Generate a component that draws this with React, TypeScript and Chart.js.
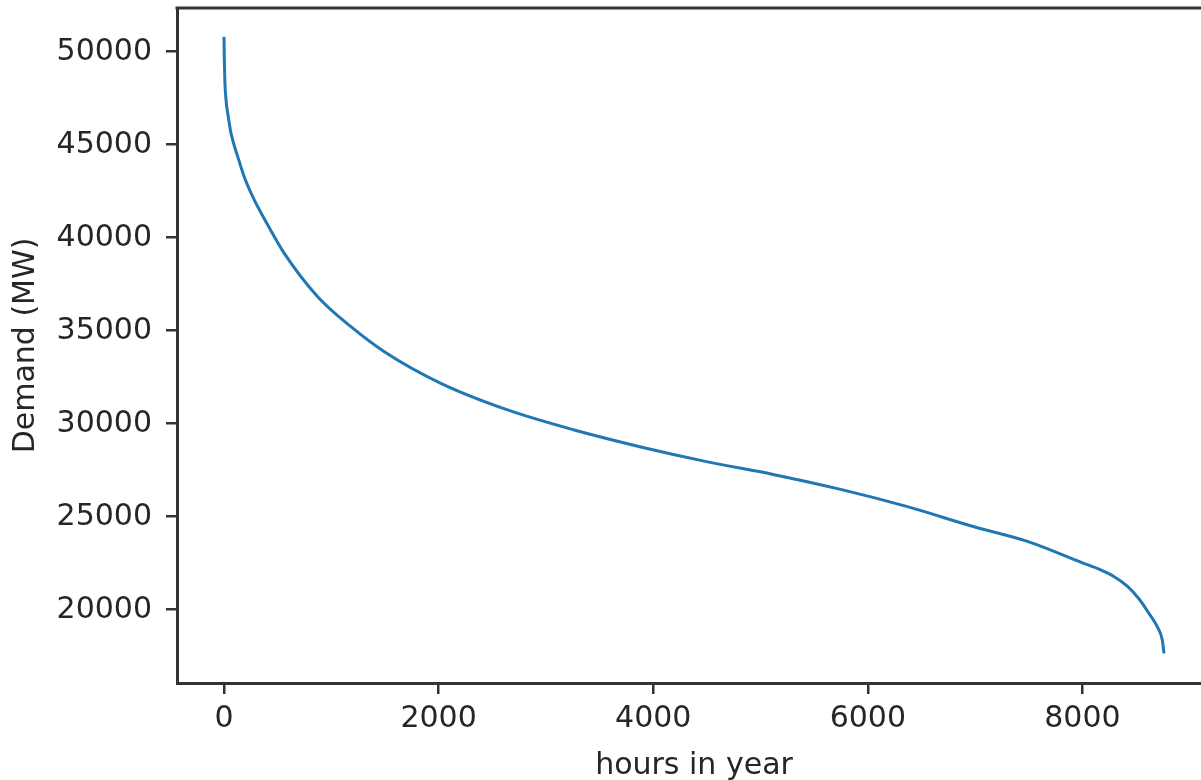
import React, { useEffect, useRef } from "react";
import { Chart, registerables } from "chart.js";

Chart.register(...registerables);

const hours = [0, 3, 8, 19, 40, 65, 128, 190, 282, 391, 562, 873, 1183, 1494, 2021, 2643, 3264, 3884, 4506, 5127, 5747, 6369, 6990, 7500, 8000, 8170, 8300, 8420, 8530, 8620, 8697, 8744, 8760];
const demand = [50800, 49600, 48400, 47400, 46500, 45620, 44360, 43250, 42030, 40860, 39160, 36830, 35215, 33870, 32170, 30740, 29660, 28750, 27950, 27260, 26470, 25540, 24460, 23650, 22520, 22140, 21760, 21250, 20560, 19800, 19090, 18370, 17650];
const xTicks = [0, 2000, 4000, 6000, 8000];
const yTicks = [20000, 25000, 30000, 35000, 40000, 45000, 50000];
const xTitle = "hours in year";
const yTitle = "Demand (MW)";

const FONT = "'DejaVu Sans', sans-serif";
const INK = "#262626";
const SPINE = "#333333";

export default function App() {
  const ref = useRef<HTMLCanvasElement | null>(null);

  useEffect(() => {
    if (!ref.current) return;
    const topSpine = {
      id: "topSpine",
      afterDraw(chart: any) {
        const { ctx, chartArea } = chart;
        ctx.save();
        ctx.strokeStyle = SPINE;
        ctx.lineWidth = 3;
        ctx.beginPath();
        ctx.moveTo(chartArea.left - 1.5, chartArea.top);
        ctx.lineTo(chartArea.right + 1.5, chartArea.top);
        ctx.stroke();
        ctx.restore();
      },
    };
    const chart = new Chart(ref.current, {
      type: "line",
      data: {
        datasets: [
          {
            data: hours.map((h, i) => ({ x: h, y: demand[i] })),
            borderColor: "#1f77b4",
            borderWidth: 3,
            pointRadius: 0,
            fill: false,
            cubicInterpolationMode: "monotone",
          },
        ],
      },
      options: {
        animation: false,
        responsive: false,
        maintainAspectRatio: false,
        layout: { padding: { top: 8, right: 19, left: 0, bottom: 0 } },
        plugins: { legend: { display: false }, tooltip: { enabled: false } },
        scales: {
          x: {
            type: "linear",
            min: -438,
            max: 9198,
            afterBuildTicks: (s: any) => {
              s.ticks = xTicks.map((v) => ({ value: v }));
            },
            afterFit: (s: any) => {
              s.height = 97;
              s.paddingLeft = 0;
              s.paddingRight = 0;
            },
            grid: { drawOnChartArea: false, drawTicks: true, tickLength: 11, color: SPINE, lineWidth: 2.5 },
            border: { display: true, color: SPINE, width: 3 },
            ticks: { color: INK, font: { family: FONT, size: 30 }, padding: 7, maxRotation: 0, autoSkip: false, callback: (v: any) => String(v) },
            title: { display: true, text: xTitle, color: INK, font: { family: FONT, size: 30 }, padding: { top: 0, bottom: -4 } },
          },
          y: {
            type: "linear",
            min: 16060,
            max: 52350,
            afterBuildTicks: (s: any) => {
              s.ticks = yTicks.map((v) => ({ value: v }));
            },
            afterFit: (s: any) => {
              s.width = 177;
              s.paddingTop = 0;
              s.paddingBottom = 0;
            },
            grid: { drawOnChartArea: false, drawTicks: true, tickLength: 11, color: SPINE, lineWidth: 2.5 },
            border: { display: true, color: SPINE, width: 3 },
            ticks: { color: INK, font: { family: FONT, size: 30 }, padding: 14, callback: (v: any) => String(v) },
            title: { display: true, text: yTitle, color: INK, font: { family: FONT, size: 30 }, padding: { top: 8, bottom: 0 } },
          },
        },
      },
      plugins: [topSpine],
    });
    return () => chart.destroy();
  }, []);

  return (
    <div style={{ position: "fixed", left: 0, top: 0, width: 1201, height: 780, overflow: "hidden", background: "#fff" }}>
      <canvas ref={ref} width={1230} height={780} style={{ display: "block", width: 1230, height: 780 }} />
    </div>
  );
}
